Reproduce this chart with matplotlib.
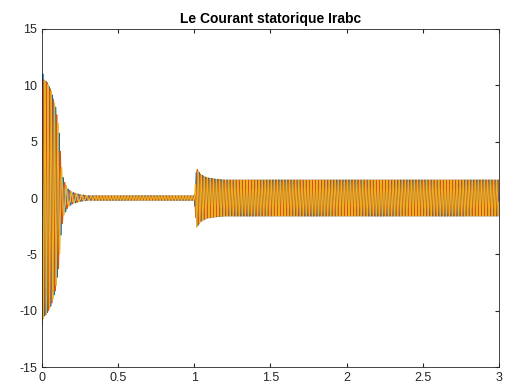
import numpy as np
import matplotlib.pyplot as plt

# envelope of the rotor currents (time s, amplitude A)
env_t = [0.0, 0.01, 0.03, 0.06, 0.09, 0.11, 0.125, 0.14, 0.17, 0.2, 0.25, 0.3, 0.999, 1.0, 1.015, 1.04, 1.08, 1.15, 1.2, 3.0]
env_a = [11.5, 10.5, 10.3, 9.5, 8.0, 6.0, 3.0, 1.6, 0.8, 0.5, 0.3, 0.2, 0.2, 0.2, 2.6, 2.1, 1.8, 1.65, 1.6, 1.6]
# electrical frequency of the currents (time s, Hz)
freq_t = [0.0, 0.1, 0.15, 0.3, 0.35, 3.0]
freq_hz = [50.0, 45.0, 30.0, 30.0, 50.0, 50.0]
phase_names = ['Ira', 'Irb', 'Irc']
phase_shift = [0.0, -2 * np.pi / 3, 2 * np.pi / 3]
colors = ['#0072BD', '#D95319', '#EDB120']

t = np.linspace(0, 3, 30001)
amp = np.interp(t, env_t, env_a)
f = np.interp(t, freq_t, freq_hz)
theta = 2 * np.pi * np.cumsum(f) * (t[1] - t[0])

plt.rcParams['font.family'] = ['Liberation Sans', 'DejaVu Sans']
plt.rcParams['axes.unicode_minus'] = False
fig = plt.figure(figsize=(5.07, 3.91), dpi=100)
ax = fig.add_axes([0.083, 0.061, 0.901, 0.865])

for i, name in enumerate(phase_names):
    ax.plot(t, amp * np.sin(theta + phase_shift[i]), color=colors[i], lw=0.8, label=name)

ax.set_xlim(0, 3)
ax.set_ylim(-15, 15)
ax.set_xticks([0, 0.5, 1, 1.5, 2, 2.5, 3])
ax.set_xticklabels(['0', '0.5', '1', '1.5', '2', '2.5', '3'])
ax.set_yticks([-15, -10, -5, 0, 5, 10, 15])
ax.tick_params(direction='in', length=3, labelsize=9, colors='#262626', top=True, right=True)
for s in ax.spines.values():
    s.set_color('#262626')
    s.set_linewidth(0.6)
ax.set_title('Le Courant statorique Irabc', fontsize=10, fontweight='bold', pad=4)

plt.savefig('out.png', dpi=100)
